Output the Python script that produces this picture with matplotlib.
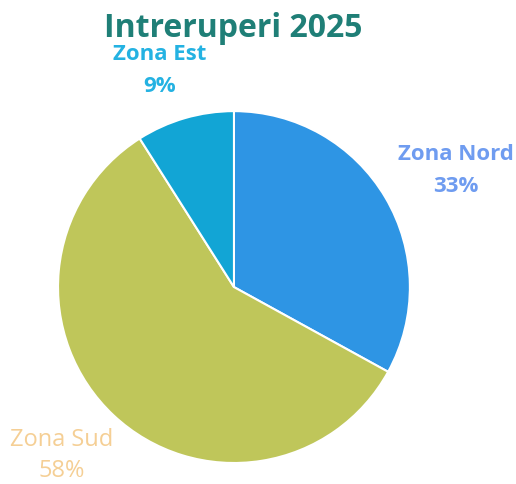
import matplotlib
matplotlib.use("Agg")
import matplotlib.pyplot as plt

categories = ["Zona Nord", "Zona Sud", "Zona Est"]
values = [33, 58, 9]
colors = ["#2e95e4", "#bfc65a", "#12a5d5"]
label_colors = ["#6f9cf0", "#f5cf95", "#24b2e2"]
title = "Intreruperi 2025"

fig = plt.figure(figsize=(5.16, 4.84), dpi=100)
ax = fig.add_axes([0.1124, 0.0434, 0.682, 0.727])
ax.pie(values, colors=colors, startangle=90, counterclock=False,
       wedgeprops=dict(edgecolor="white", linewidth=1.5))
ax.set_xlim(-1, 1)
ax.set_ylim(-1, 1)
ax.set_aspect("equal")
ax.axis("off")

fig.text(0.452, 0.942, title, ha="center", va="center", fontsize=23,
         fontweight="bold", color="#1f7f77", family="Open Sans")

label_pos = {"Zona Nord": (456, 155, 187), "Zona Sud": (62, 440, 471), "Zona Est": (160, 55, 86)}
for cat, val, lc in zip(categories, values, label_colors):
    x, y1, y2 = label_pos[cat]
    bold = "bold" if cat != "Zona Sud" else "normal"
    fs = 16 if cat != "Zona Sud" else 17
    fig.text(x / 516, 1 - y1 / 484, cat, ha="center", va="center", fontsize=fs,
             color=lc, family="Open Sans", fontweight=bold)
    fig.text(x / 516, 1 - y2 / 484, f"{val}%", ha="center", va="center", fontsize=fs,
             color=lc, family="Open Sans", fontweight=bold)

fig.savefig("out.png", dpi=100)
